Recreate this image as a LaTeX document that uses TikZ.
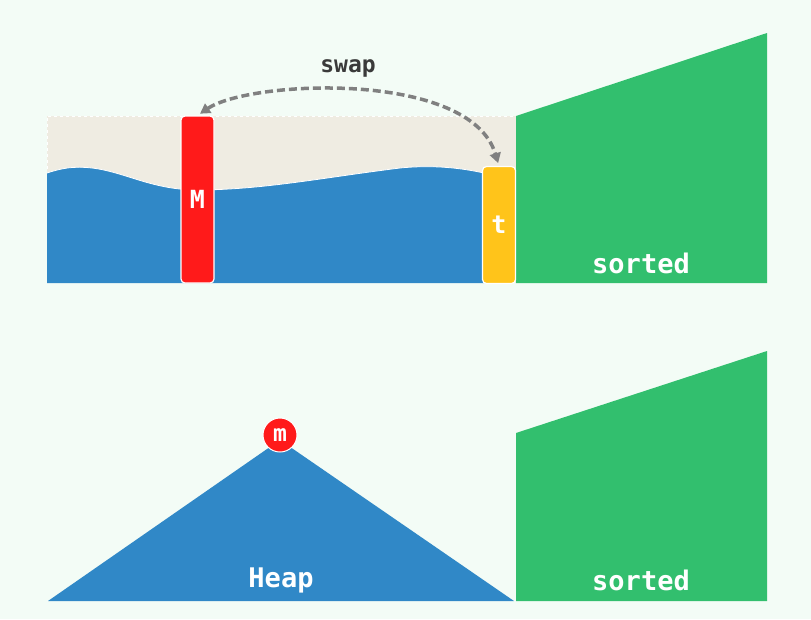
\documentclass[tikz,border=0pt]{standalone}
\usepackage{fontspec}
\setmonofont{DejaVu Sans Mono}
\usetikzlibrary{arrows.meta}
\definecolor{bg}{RGB}{243,252,246}
\definecolor{beige}{RGB}{239,236,226}
\definecolor{heapblue}{RGB}{48,136,199}
\definecolor{barred}{RGB}{255,26,26}
\definecolor{baryellow}{RGB}{255,196,26}
\definecolor{sgreen}{RGB}{50,191,110}
\definecolor{arrowgray}{RGB}{128,128,128}
\definecolor{txtdark}{RGB}{58,58,58}
\tikzset{
  lbl/.style={font=\ttfamily\bfseries\fontsize{27}{31}\selectfont, text=white, inner sep=0pt},
  barbox/.style={draw=white, line width=1.2pt, rounded corners=4pt, inner sep=0pt,
    minimum width=33pt, font=\ttfamily\bfseries\fontsize{25}{29}\selectfont, text=white},
  swaparrow/.style={draw=arrowgray, line width=3.5pt, dash pattern=on 8pt off 4pt,
    {Triangle[length=10pt,width=11pt]}-{Triangle[length=10pt,width=11pt]}, shorten <=3pt, shorten >=3pt}
}
\begin{document}
\begin{tikzpicture}[x=1pt,y=-1pt]
\fill[bg] (0,0) rectangle (811,619);
\useasboundingbox (0,0) rectangle (811,619);
% top panel
\fill[beige] (47,116) rectangle (516,283);
\draw[white, line width=0.6pt, dash pattern=on 3pt off 3pt] (47,283) -- (47,116) -- (516,116);
\fill[heapblue] (47,173) .. controls (62,168) and (74,166) .. (92,168)
  .. controls (125,172) and (150,189) .. (195,190)
  .. controls (262,190) and (320,178) .. (400,168)
  .. controls (440,164) and (470,170) .. (484,173) -- (484,283) -- (47,283) -- cycle;
\draw[white, line width=0.8pt] (47,173) .. controls (62,168) and (74,166) .. (92,168)
  .. controls (125,172) and (150,189) .. (195,190)
  .. controls (262,190) and (320,178) .. (400,168)
  .. controls (440,164) and (470,170) .. (484,173);
\fill[sgreen] (516,116) -- (767,33) -- (767,283) -- (516,283) -- cycle;
\node[barbox, fill=barred, minimum height=167pt] (M) at (197.5,199.5) {M};
\node[barbox, fill=baryellow, minimum height=117pt] (t) at (499,225) {t};
\node[lbl] (s1) at (641,263) {sorted};
\node[font=\ttfamily\bfseries\fontsize{23}{27}\selectfont, text=txtdark, inner sep=0pt] (swap) at (348,68) {swap};
\draw[swaparrow] (M.north) .. controls (250,80) and (470,70) .. (t.north);
% bottom panel
\fill[heapblue] (48,601) -- (280,440) -- (514,601) -- cycle;
\fill[sgreen] (516,433) -- (767,351) -- (767,601) -- (516,601) -- cycle;
\node[circle, fill=barred, draw=white, line width=1pt, minimum size=34pt, inner sep=0pt,
  font=\ttfamily\bfseries\fontsize{23}{27}\selectfont, text=white] (m) at (280,435) {m};
\node[lbl] (heap) at (281,580) {Heap};
\node[lbl] (s2) at (641,580) {sorted};
\end{tikzpicture}
\end{document}
